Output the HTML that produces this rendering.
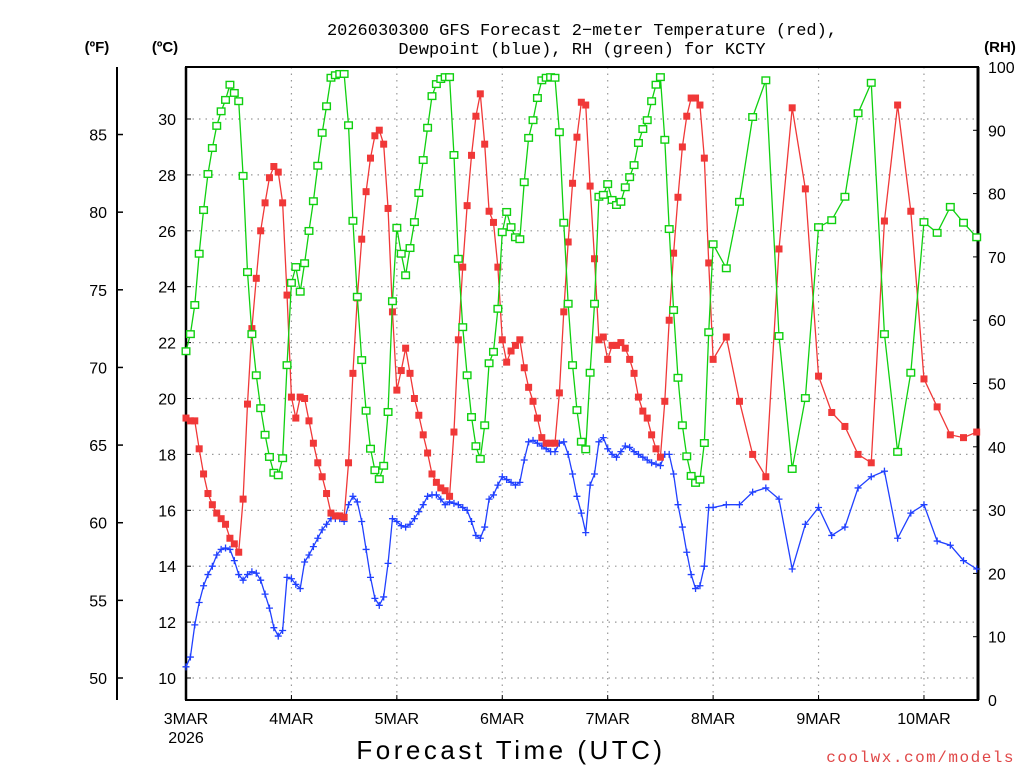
<!DOCTYPE html>
<html><head><meta charset="utf-8"><style>
html,body{margin:0;padding:0;background:#fff;}
svg{display:block;font-family:"Liberation Sans",sans-serif;}
</style></head><body>
<svg id="c" width="1024" height="768" viewBox="0 0 1024 768">
<text x="582" y="35" font-size="17" font-family="Liberation Mono, monospace" text-anchor="middle">2026030300 GFS Forecast 2−meter Temperature (red),</text>
<text x="582" y="54" font-size="17" font-family="Liberation Mono, monospace" text-anchor="middle">Dewpoint (blue), RH (green) for KCTY</text>
<text x="97" y="52" font-size="15" font-weight="bold" text-anchor="middle">(ºF)</text>
<text x="165" y="52" font-size="15" font-weight="bold" text-anchor="middle">(ºC)</text>
<text x="1000" y="52" font-size="15" font-weight="bold" text-anchor="middle">(RH)</text>
<text x="511" y="759" font-size="26" text-anchor="middle" letter-spacing="3.5">Forecast Time (UTC)</text>
<text x="1015" y="762" font-size="16" font-family="Liberation Mono, monospace" fill="#e04848" text-anchor="end" letter-spacing="1.5">coolwx.com/models</text>
<g id="grid"></g><g id="axes"></g><g id="series"></g>
</svg>
<script>
const hours=[];for(let h=0;h<=120;h++)hours.push(h);for(let h=123;h<=180;h+=3)hours.push(h);
const tempC=[19.3,19.2,19.2,18.2,17.3,16.6,16.2,15.9,15.7,15.5,15.0,14.8,14.5,16.4,19.8,22.5,24.3,26.0,27.0,27.9,28.3,28.1,27.0,23.7,20.05,
19.3,20.05,20.0,19.2,18.4,17.7,17.2,16.6,15.9,15.8,15.8,15.75,17.7,20.9,23.6,25.7,27.4,28.6,29.4,29.6,29.1,26.8,23.1,20.3,
21.0,21.8,20.9,20.0,19.4,18.7,18.05,17.3,17.0,16.8,16.7,16.5,18.8,22.1,24.7,26.9,28.7,30.1,30.9,29.1,26.7,26.3,24.7,22.1,
21.3,21.7,21.9,22.1,21.1,20.4,19.9,19.3,18.6,18.4,18.4,18.4,20.2,23.1,25.6,27.7,29.35,30.6,30.5,27.6,25.0,22.1,22.2,21.4,
21.9,21.9,22.0,21.8,21.4,20.9,20.05,19.55,19.3,18.7,18.2,17.9,19.9,22.8,25.2,27.2,29.0,30.1,30.75,30.75,30.5,28.6,24.85,21.4,
22.2,19.9,18.0,17.2,25.35,30.4,27.5,20.8,19.5,19.0,18.0,17.7,26.35,30.5,26.7,20.7,19.7,18.7,18.6,18.8];
const dewC=[10.4,10.75,11.9,12.7,13.3,13.7,14.0,14.4,14.6,14.65,14.6,14.2,13.7,13.5,13.7,13.8,13.75,13.5,13.0,12.5,11.8,11.5,11.7,13.6,13.55,
13.35,13.2,14.15,14.4,14.7,15.0,15.3,15.5,15.7,15.7,15.7,15.6,16.2,16.5,16.3,15.6,14.6,13.6,12.85,12.6,12.9,14.1,15.7,15.6,
15.45,15.4,15.5,15.7,15.95,16.2,16.5,16.55,16.55,16.4,16.2,16.3,16.25,16.2,16.1,16.0,15.6,15.1,15.0,15.4,16.4,16.55,16.9,17.2,
17.1,17.0,16.9,17.0,17.8,18.45,18.5,18.4,18.3,18.2,18.1,18.1,18.4,18.45,18.0,17.3,16.5,15.9,15.2,16.9,17.3,18.45,18.6,18.2,
18.0,17.9,18.1,18.3,18.25,18.1,18.0,17.9,17.8,17.7,17.65,17.6,18.0,18.0,17.3,16.2,15.4,14.5,13.7,13.2,13.3,14.0,16.1,16.1,
16.2,16.2,16.65,16.8,16.4,13.9,15.5,16.1,15.1,15.4,16.8,17.2,17.4,15.0,15.9,16.2,14.9,14.75,14.2,13.9];
const rh=[55.1,57.8,62.4,70.5,77.4,83.1,87.2,90.7,93.0,94.8,97.2,95.9,94.6,82.8,67.6,57.8,51.3,46.1,41.9,38.4,35.9,35.5,38.2,52.9,65.9,
68.4,64.5,69.0,74.1,78.8,84.4,89.6,93.8,98.3,98.7,98.9,98.9,90.8,75.7,63.7,53.7,45.7,39.7,36.3,34.9,37.0,45.5,63.0,74.6,
70.5,67.1,71.4,75.5,80.1,85.3,90.4,95.4,97.3,98.1,98.4,98.4,86.1,69.7,58.9,51.3,44.7,40.1,38.1,43.4,53.2,55.0,61.8,73.9,
77.1,74.7,73.1,72.8,81.8,88.8,91.6,95.1,97.9,98.3,98.4,98.3,89.7,75.4,62.6,52.9,45.8,40.8,39.6,51.7,62.6,79.5,79.8,81.5,
79.0,78.2,78.7,81.0,82.6,84.5,88.0,90.2,91.6,94.6,97.2,98.4,88.5,74.4,61.6,50.9,43.4,38.5,35.4,34.3,34.8,40.6,58.1,72.0,
68.2,78.7,92.1,97.9,57.5,36.5,47.7,74.7,75.8,79.5,92.7,97.5,57.8,39.2,51.7,75.5,73.8,77.9,75.4,73.1];
const dayLabels=["3MAR","4MAR","5MAR","6MAR","7MAR","8MAR","9MAR","10MAR"];
const cTicks=[10,12,14,16,18,20,22,24,26,28,30];
const fTicks=[50,55,60,65,70,75,80,85];
const rhTicks=[0,10,20,30,40,50,60,70,80,90,100];

const L=186,R=978,T=67,B=700;
const xS=h=>L+h*(R-L)/180.3;
const yC=c=>678-(c-10)*27.95;
const yR=r=>B-r*(B-T)/100;
const NS="http://www.w3.org/2000/svg";
function mk(tag,attrs,parent){const e=document.createElementNS(NS,tag);for(const k in attrs)e.setAttribute(k,attrs[k]);parent.appendChild(e);return e;}
const grid=document.getElementById('grid'),axes=document.getElementById('axes'),ser=document.getElementById('series');

cTicks.forEach(c=>{
  const y=yC(c);
  const g=mk('line',{x1:L,x2:R,y1:y,y2:y,stroke:'#999','stroke-dasharray':'1.5,5','stroke-width':1.2},grid);
  
  
  const t=mk('text',{x:176,y:y+6,'font-size':16,'text-anchor':'end'},axes);t.textContent=c;
  
  
  mk('line',{x1:L,x2:L+5,y1:y,y2:y,stroke:'#000'},axes);
});
dayLabels.forEach((d,i)=>{
  const x=xS(i*24);
  if(i>0){const g=mk('line',{x1:x,x2:x,y1:T,y2:B,stroke:'#999','stroke-dasharray':'1.5,5','stroke-width':1.2},grid);
  
  }
  const t=mk('text',{x:x,y:724,'font-size':16,'text-anchor':'middle'},axes);t.textContent=d;
  
  
  mk('line',{x1:x,x2:x,y1:B,y2:B-5,stroke:'#000'},axes);
});
const yr=mk('text',{x:xS(0),y:743,'font-size':16,'text-anchor':'middle'},axes);yr.textContent='2026';


fTicks.forEach(f=>{
  const y=yC((f-32)*5/9);
  const t=mk('text',{x:107,y:y+6,'font-size':16,'text-anchor':'end'},axes);t.textContent=f;
  
  
  mk('line',{x1:117,x2:123,y1:y,y2:y,stroke:'#000','stroke-width':1.5},axes);
});
rhTicks.forEach(r=>{
  const y=yR(r);
  const t=mk('text',{x:988,y:y+6,'font-size':16,'text-anchor':'start'},axes);t.textContent=r;
  
  
  mk('line',{x1:R,x2:R-5,y1:y,y2:y,stroke:'#000'},axes);
});
const fa=mk('line',{x1:117,x2:117,y1:T,y2:B,stroke:'#000','stroke-width':2},axes);


const fr=mk('rect',{x:L,y:T,width:R-L,height:B-T,fill:'none',stroke:'#000','stroke-width':2},axes);


mk('line',{x1:R,x2:R,y1:T,y2:B,stroke:'#000','stroke-width':3},axes);
mk('line',{x1:L,x2:L,y1:T,y2:B,stroke:'#000','stroke-width':2.5},axes);

function drawSeries(vals,yf,color,kind,name){
  const g=mk('g',{},ser);
  
  
  const pts=vals.map((v,i)=>[xS(hours[i]),yf(v)]);
  const pl=mk('polyline',{points:pts.map(p=>p.join(',')).join(' '),fill:'none',stroke:color,'stroke-width':1.3},g);
  
  
  pts.forEach(p=>{
    let m;
    if(kind==='fill')m=mk('rect',{x:p[0]-3.5,y:p[1]-3.5,width:7,height:7,fill:color},g);
    else if(kind==='open')m=mk('rect',{x:p[0]-3.8,y:p[1]-3.3,width:7.6,height:6.6,fill:'#fff',stroke:color,'stroke-width':1.4},g);
    else m=mk('path',{d:`M${p[0]-3.5},${p[1]}h7M${p[0]},${p[1]-3.5}v7`,stroke:color,'stroke-width':1.3},g);
    
    
  });
}
drawSeries(dewC,yC,'#2040ff','plus','dewpoint');
drawSeries(tempC,yC,'#f03838','fill','temperature');
drawSeries(rh,yR,'#10d010','open','rh');
</script>
</body></html>
